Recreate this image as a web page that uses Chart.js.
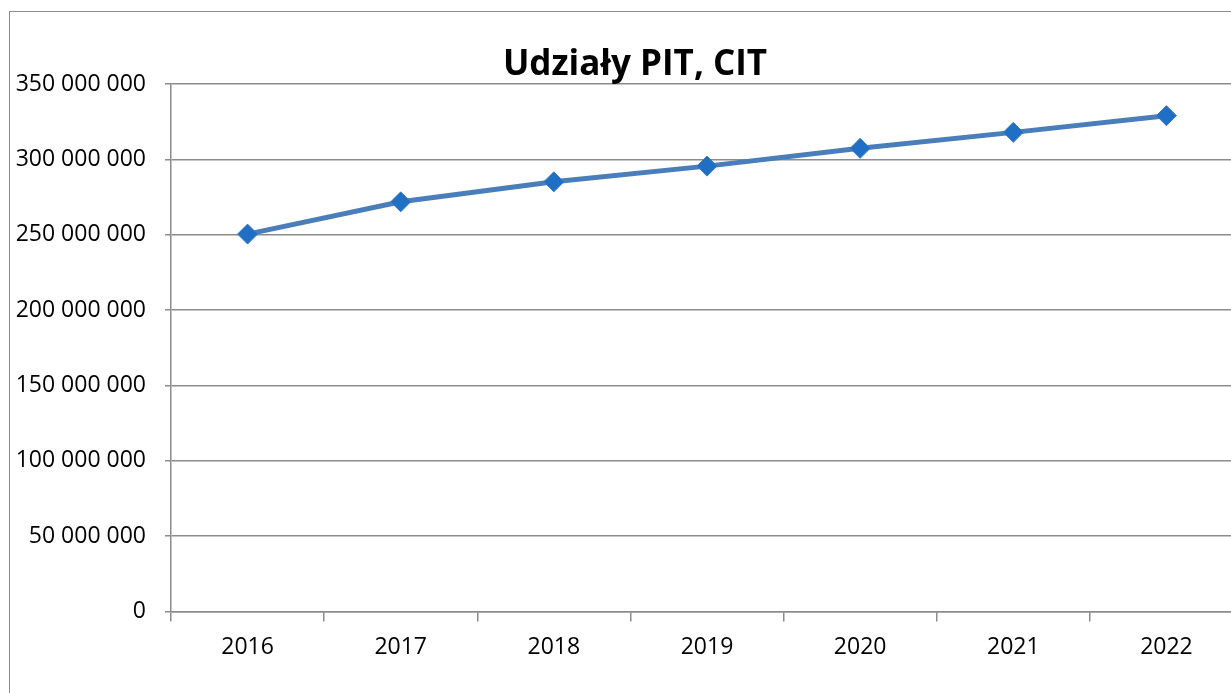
<!DOCTYPE html>
<html>
<head>
<meta charset="utf-8">
<script src="https://cdn.jsdelivr.net/npm/chart.js@4"></script>
<style>
  html, body { margin: 0; padding: 0; background: #fff; overflow: hidden; }
  #wrap { position: relative; width: 1231px; height: 693px; overflow: hidden; }
  #frame { position: absolute; left: 9px; top: 11px; width: 1300px; height: 800px; border: 1px solid #8c8c8c; box-sizing: border-box; }
  #title { position: absolute; left: 0; top: 42px; width: 1270px; text-align: center;
           font: bold 35px/40px "Open Sans", sans-serif; color: #000; }
  canvas { position: absolute; left: 0; top: 0; }
</style>
</head>
<body>
<div id="wrap">
  <div id="frame"></div>
  <canvas id="chart" width="1260" height="693"></canvas>
  <div id="title"></div>
</div>
<script>
const years = ["2016", "2017", "2018", "2019", "2020", "2021", "2022"];
const udzialy = [250400000, 271800000, 285100000, 295500000, 307300000, 317900000, 329000000];
const yMax = 350000000;
const yStep = 50000000;
const titleText = "Udziały PIT, CIT";

const fmt = v => String(v).replace(/\B(?=(\d{3})+(?!\d))/g, " ");

document.getElementById("title").textContent = titleText;

const ctx = document.getElementById("chart").getContext("2d");
new Chart(ctx, {
  type: "line",
  data: {
    labels: years,
    datasets: [{
      label: titleText,
      data: udzialy,
      borderColor: "#4a7ebb",
      borderWidth: 5,
      pointStyle: "rectRot",
      pointRadius: 10,
      pointBackgroundColor: "#1f6fc4",
      pointBorderColor: "#3a78c0",
      pointBorderWidth: 1,
      tension: 0,
      fill: false
    }]
  },
  options: {
    responsive: false,
    animation: false,
    devicePixelRatio: 1,
    layout: { padding: { left: 0, right: 17, top: 84, bottom: 20 } },
    plugins: {
      legend: { display: false },
      tooltip: { enabled: false },
      title: { display: false }
    },
    scales: {
      x: {
        offset: true,
        grid: { offset: true, drawOnChartArea: false, tickLength: 10, color: "#8c8c8c", lineWidth: 1.5 },
        border: { color: "#8c8c8c", width: 1.5 },
        ticks: { color: "#000", padding: 12, font: { family: "Open Sans", size: 23 } }
      },
      y: {
        min: 0,
        max: yMax,
        afterFit: s => { s.width = 171; },
        grid: { tickLength: 6, color: "#8c8c8c", lineWidth: 1.5 },
        border: { color: "#8c8c8c", width: 1.5 },
        ticks: { stepSize: yStep, color: "#000", padding: 19, font: { family: "Open Sans", size: 23 }, callback: v => fmt(v) }
      }
    }
  }
});
</script>
</body>
</html>
